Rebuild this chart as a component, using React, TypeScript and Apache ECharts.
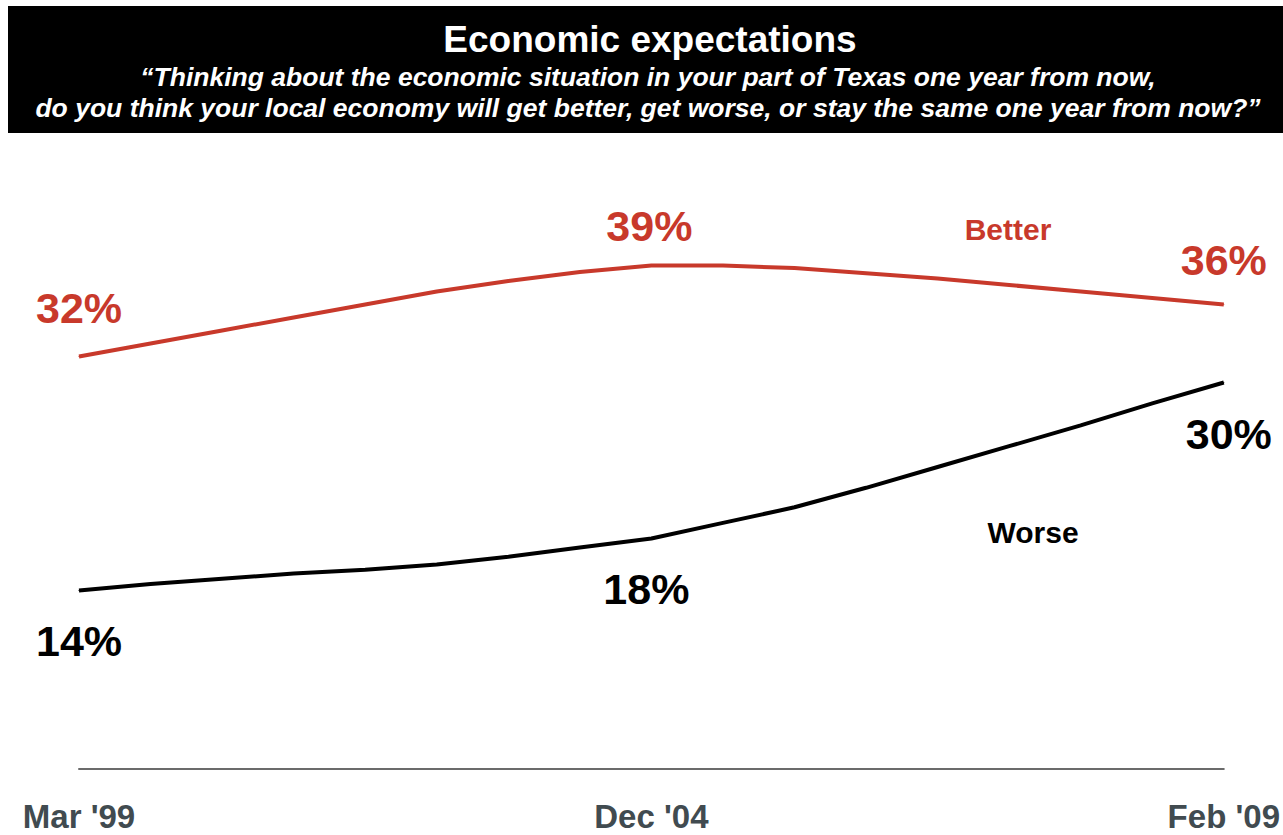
import React, { useEffect, useRef } from "react";
import * as echarts from "echarts";

const categories = ["Mar '99", "", "", "", "", "", "", "", "Dec '04", "", "", "", "", "", "", "", "Feb '09"];
const betterValues = [32, 33, 34, 35, 36, 37, 37.8, 38.5, 39, 39, 38.8, 38.4, 38, 37.5, 37, 36.5, 36];
const worseValues = [14, 14.5, 14.9, 15.3, 15.6, 16, 16.6, 17.3, 18, 19.2, 20.4, 21.9, 23.5, 25.1, 26.7, 28.4, 30];
const labelledIndices = [0, 8, 16];
const seriesNames = ["Better", "Worse"];
const titleText = "Economic expectations";
const subtitleLines = [
  "\u201cThinking about the economic situation in your part of Texas one year from now,",
  "do you think your local economy will get better, get worse, or stay the same one year from now?\u201d",
];

const FONT = "'Liberation Sans', Arial, Helvetica, sans-serif";
const RED = "#c8392b";
const BLACK = "#000000";

// per labelled point: [distance, dx]
const betterLabelPos: Record<number, [number, number]> = { 0: [27, 0], 8: [18, -2], 16: [23, 0] };
const worseLabelPos: Record<number, [number, number]> = { 0: [28, 0], 8: [28, -5], 16: [29, 5] };

function buildData(values: number[], color: string, pos: "top" | "bottom", cfg: Record<number, [number, number]>) {
  return values.map((v, i) => {
    if (!labelledIndices.includes(i)) return v;
    const [d, dx] = cfg[i];
    return {
      value: v,
      label: {
        show: true,
        position: pos,
        distance: d,
        offset: [dx, 0],
        formatter: `${Math.round(v)}%`,
        color,
        fontSize: 43,
        fontWeight: "bold",
        fontFamily: FONT,
      },
    };
  });
}

export default function App() {
  const ref = useRef<HTMLDivElement>(null);
  useEffect(() => {
    if (!ref.current) return;
    const chart = echarts.init(ref.current, undefined, { renderer: "svg" });
    chart.setOption({
      animation: false,
      backgroundColor: "#ffffff",
      grid: { left: 79, right: 57, top: 187.5, bottom: 62.5 },
      xAxis: {
        type: "category",
        data: categories,
        boundaryGap: false,
        offset: -4,
        axisLine: { show: true, lineStyle: { color: "#6b6b6b", width: 2 } },
        axisTick: { show: false },
        splitLine: { show: false },
        axisLabel: {
          interval: 0,
          margin: 31,
          color: "#414b50",
          fontSize: 33,
          fontWeight: "bold",
          fontFamily: FONT,
        },
      },
      yAxis: { type: "value", min: 0, max: 45, show: false },
      series: [
        {
          name: seriesNames[0],
          type: "line",
          data: buildData(betterValues, RED, "top", betterLabelPos),
          symbol: "circle",
          symbolSize: 1,
          itemStyle: { color: RED },
          lineStyle: { color: RED, width: 4 },
          smooth: false,
        },
        {
          name: seriesNames[1],
          type: "line",
          data: buildData(worseValues, BLACK, "bottom", worseLabelPos),
          symbol: "circle",
          symbolSize: 1,
          itemStyle: { color: BLACK },
          lineStyle: { color: BLACK, width: 4 },
          smooth: false,
        },
      ],
      graphic: [
        { type: "rect", shape: { x: 8, y: 6, width: 1275, height: 127 }, style: { fill: "#000000" }, z: 0 },
        {
          type: "text",
          x: 650,
          y: 39,
          style: { text: titleText, fill: "#ffffff", font: `bold 37px ${FONT}`, align: "center", verticalAlign: "middle" },
          z: 1,
        },
        {
          type: "text",
          x: 648,
          y: 77,
          style: { text: subtitleLines[0], fill: "#ffffff", font: `italic bold 26.5px ${FONT}`, align: "center", verticalAlign: "middle" },
          z: 1,
        },
        {
          type: "text",
          x: 648,
          y: 108,
          style: { text: subtitleLines[1], fill: "#ffffff", font: `italic bold 26.5px ${FONT}`, align: "center", verticalAlign: "middle" },
          z: 1,
        },
        {
          type: "text",
          x: 1008,
          y: 229,
          style: { text: seriesNames[0], fill: RED, font: `bold 30px ${FONT}`, align: "center", verticalAlign: "middle" },
          z: 1,
        },
        {
          type: "text",
          x: 1033,
          y: 532,
          style: { text: seriesNames[1], fill: BLACK, font: `bold 30px ${FONT}`, align: "center", verticalAlign: "middle" },
          z: 1,
        },
      ],
    });
    return () => chart.dispose();
  }, []);
  return (
    <div
      ref={ref}
      style={{ position: "fixed", left: 0, top: 0, width: 1283, height: 835, background: "#fff" }}
    />
  );
}
